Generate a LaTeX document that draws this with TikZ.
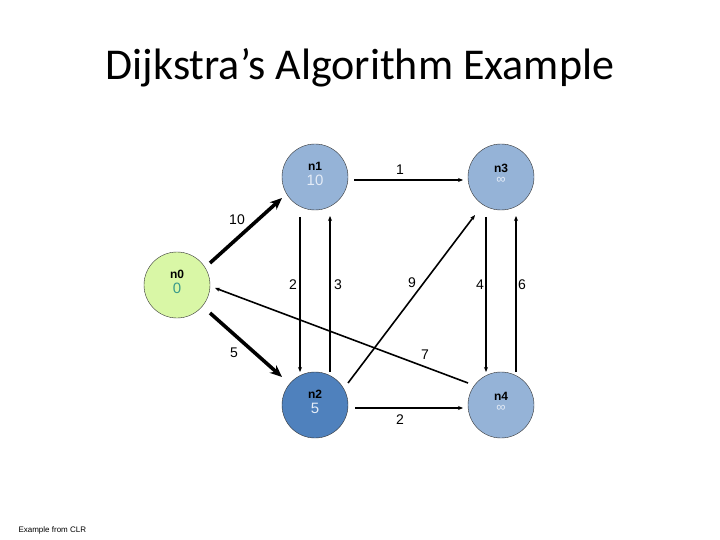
\documentclass[tikz,border=0pt]{standalone}
\usepackage{fontspec}
\setmainfont{Liberation Sans}
\newfontfamily\titlefont{Carlito}
\usetikzlibrary{arrows.meta, calc}
\definecolor{NodeGreen}{HTML}{D9F7A6}
\definecolor{NodeLight}{HTML}{95B3D7}
\definecolor{NodeDark}{HTML}{4F81BD}
\definecolor{ValPale}{HTML}{E4ECF7}
\definecolor{ValTeal}{HTML}{3A9A8A}
\tikzset{
  vnode/.style={circle, draw=black!80, thin, minimum size=66pt, inner sep=0pt,
    font=\fontsize{12}{13}\selectfont},
  wlabel/.style={font=\fontsize{14}{14}\selectfont, inner sep=0pt},
  edge/.style={-{Stealth[length=5pt, width=4pt]}, line width=1.6pt},
  tedge/.style={-{Stealth[length=12pt, width=10pt]}, line width=3.6pt},
}
\newcommand{\vtext}[3]{\raisebox{6pt}{\shortstack{\textbf{#1}\\[2pt]{\color{#2}#3}}}}
\newcommand{\valsize}{\fontsize{15}{15}\selectfont}
\newcommand{\infsym}{{\fontsize{13}{13}\selectfont ∞}}

\begin{document}
\begin{tikzpicture}[x=1pt, y=-1pt]
    \useasboundingbox (0,0) rectangle (720,540);
    \node[font=\titlefont\fontsize{44}{48}\selectfont] (title) at (360,68) {Dijkstra’s Algorithm Example};

    % vertices
    \node[vnode, fill=NodeGreen] (n0) at (177,285) {\vtext{n0}{ValTeal}{\valsize 0}};
    \node[vnode, fill=NodeLight] (n1) at (315,177) {\vtext{n1}{ValPale}{\valsize 10}};
    \node[vnode, fill=NodeDark] (n2) at (315,405) {\vtext{n2}{ValPale}{\valsize 5}};
    \node[vnode, fill=NodeLight] (n3) at (501,177) {\vtext{n3}{ValPale}{\infsym}};
    \node[vnode, fill=NodeLight] (n4) at (501,405) {\vtext{n4}{ValPale}{\infsym}};

    % edges
    \draw[tedge] ($(n0)+(33,-22)$) -- ($(n1)+(-33,21)$);
    \draw[tedge] ($(n0)+(33,28)$) -- ($(n2)+(-33,-28)$);
    \draw[edge] ($(n1)+(39,3)$) -- ($(n3)+(-38,3)$);
    \draw[edge] ($(n1)+(-15,40)$) -- ($(n2)+(-15,-33)$);
    \draw[edge] ($(n2)+(15,-33)$) -- ($(n1)+(15,39)$);
    \draw[edge] ($(n2)+(33,-22)$) -- ($(n3)+(-26,38)$);
    \draw[edge] ($(n3)+(-15,40)$) -- ($(n4)+(-15,-33)$);
    \draw[edge] ($(n4)+(15,-33)$) -- ($(n3)+(15,39)$);
    \draw[edge] ($(n4)+(-33,-22)$) -- ($(n0)+(38,3)$);
    \draw[edge] ($(n2)+(40,3)$) -- ($(n4)+(-38,3)$);

    % weights
    \node[wlabel] (w01) at (237,220) {10};
    \node[wlabel] (w02) at (234,353) {5};
    \node[wlabel] (w13) at (400,170) {1};
    \node[wlabel] (w12) at (293,285) {2};
    \node[wlabel] (w21) at (338,285) {3};
    \node[wlabel] (w23) at (412,283) {9};
    \node[wlabel] (w34) at (480,285) {4};
    \node[wlabel] (w43) at (522,285) {6};
    \node[wlabel] (w40) at (425,355) {7};
    \node[wlabel] (w24) at (400,420) {2};

    \node[anchor=west, font=\fontsize{8}{9}\selectfont] (note) at (15,530) {Example from CLR};
  \end{tikzpicture}
\end{document}
